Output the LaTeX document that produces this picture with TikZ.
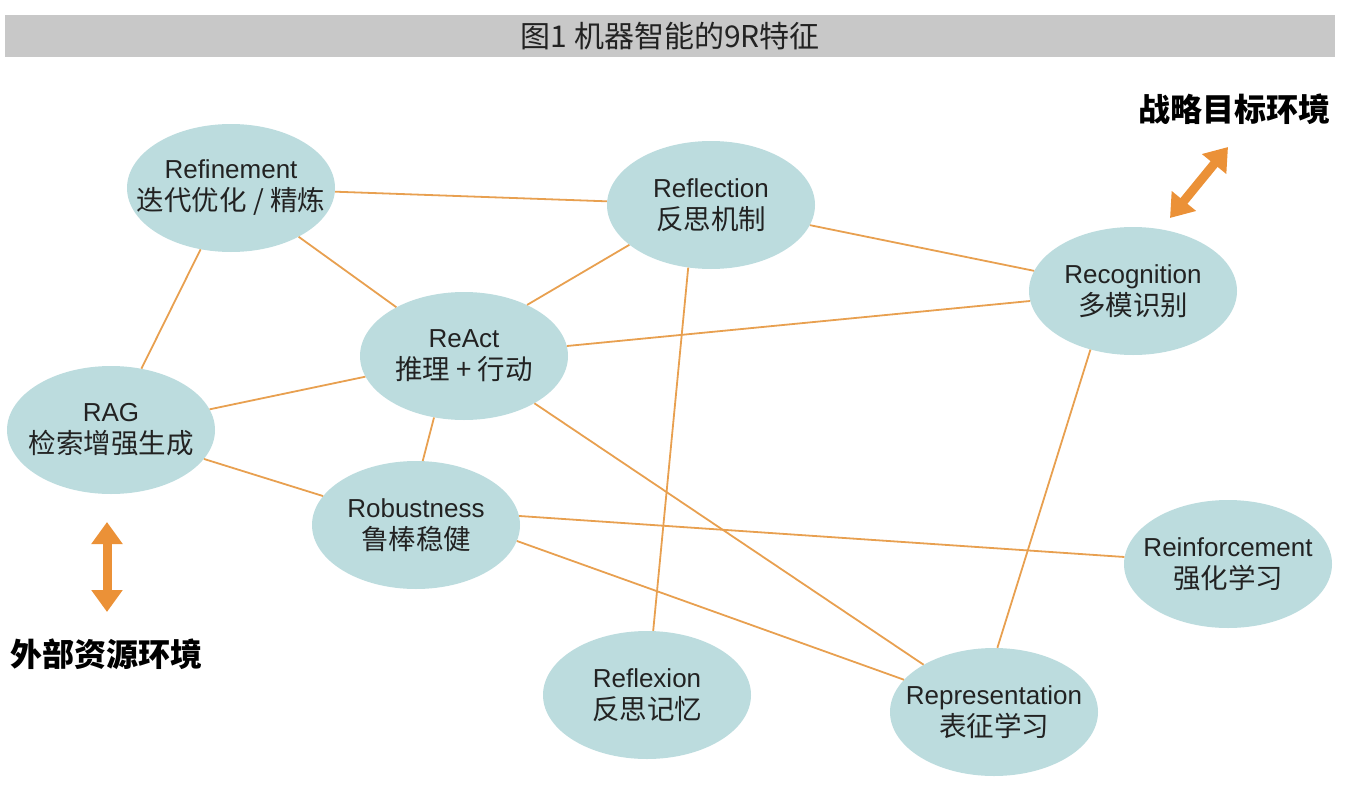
\documentclass[tikz,border=0pt]{standalone}
\usepackage{fontspec}
\setmainfont{Liberation Sans}
\newfontfamily\cjk{Noto Sans CJK SC}
\usetikzlibrary{arrows.meta,shapes.geometric}
\definecolor{nodefill}{RGB}{188,220,222}
\definecolor{edgec}{RGB}{232,160,80}
\definecolor{arrowc}{RGB}{235,145,55}
\definecolor{titlebg}{RGB}{200,200,200}
\definecolor{txt}{RGB}{34,34,34}
\newcommand\zh[1]{{\cjk\fontsize{27.5}{32}\selectfont #1}}
\begin{document}
\begin{tikzpicture}[x=1pt,y=-1pt,
  nine/.style={ellipse, fill=nodefill, minimum width=208pt, minimum height=128pt,
    inner sep=0pt},
  ninetext/.style={align=center, text=txt, inner sep=0pt, font=\fontsize{26}{32}\selectfont},
  link/.style={draw=edgec, line width=1.8pt},
  envarrow/.style={draw=arrowc, line width=9pt,
    {Triangle[width=30pt,length=22pt]}-{Triangle[width=30pt,length=22pt]}},
  envlabel/.style={font=\cjk\bfseries\fontsize{32}{36}\selectfont, text=black, inner sep=0pt}]
\useasboundingbox (0,0) rectangle (1346,808);
\node[fill=titlebg, minimum width=1330pt, minimum height=42pt, inner sep=0pt, anchor=north west] (title) at (5,15) {};
\node[font=\cjk\fontsize{30}{32}\selectfont, text=txt, inner sep=0pt] (titletext) at (title.center) {图1 机器智能的9R特征};

\node[nine] (ref)  at (231,188) {};
\node[nine] (refl) at (711,205) {};
\node[nine] (rec)  at (1133,291) {};
\node[nine] (react) at (464,356) {};
\node[nine] (rag)  at (111,430) {};
\node[nine] (rob)  at (416,525) {};
\node[nine] (rein) at (1228,564) {};
\node[nine] (rflx) at (647,695) {};
\node[nine] (rep)  at (994,712) {};

\node[ninetext] (ref-t)   at (ref)   {Refinement\\\zh{迭代优化 / 精炼}};
\node[ninetext] (refl-t)  at (refl)  {Reflection\\\zh{反思机制}};
\node[ninetext] (rec-t)   at (rec)   {Recognition\\\zh{多模识别}};
\node[ninetext] (react-t) at (react) {ReAct\\\zh{推理 + 行动}};
\node[ninetext] (rag-t)   at (rag)   {RAG\\\zh{检索增强生成}};
\node[ninetext] (rob-t)   at (rob)   {Robustness\\\zh{鲁棒稳健}};
\node[ninetext] (rein-t)  at (rein)  {Reinforcement\\\zh{强化学习}};
\node[ninetext] (rflx-t)  at (rflx)  {Reflexion\\\zh{反思记忆}};
\node[ninetext] (rep-t)   at (rep)   {Representation\\\zh{表征学习}};

\draw[link] (ref) -- (refl);
\draw[link] (ref) -- (react);
\draw[link] (ref) -- (rag);
\draw[link] (refl.-154) -- (react.39);
\draw[link] (refl) -- (rec);
\draw[link] (refl.-110) -- (rflx);
\draw[link] (react) -- (rec);
\draw[link] (react) -- (rag);
\draw[link] (react.-116) -- (rob.84);
\draw[link] (react) -- (rep);
\draw[link] (rag) -- (rob);
\draw[link] (rob.5) -- (rein);
\draw[link] (rob.-9) -- (rep);
\draw[link] (rec.-126) -- (rep.87);

\coordinate (strA) at (1170,218);
\coordinate (strB) at (1228,147);
\draw[envarrow] (strA) -- (strB);
\node[envlabel] (strlabel) at (1234,109) {战略目标环境};

\coordinate (extA) at (107,522);
\coordinate (extB) at (107,612);
\draw[envarrow] (extA) -- (extB);
\node[envlabel] (extlabel) at (106,654) {外部资源环境};
\end{tikzpicture}
\end{document}
